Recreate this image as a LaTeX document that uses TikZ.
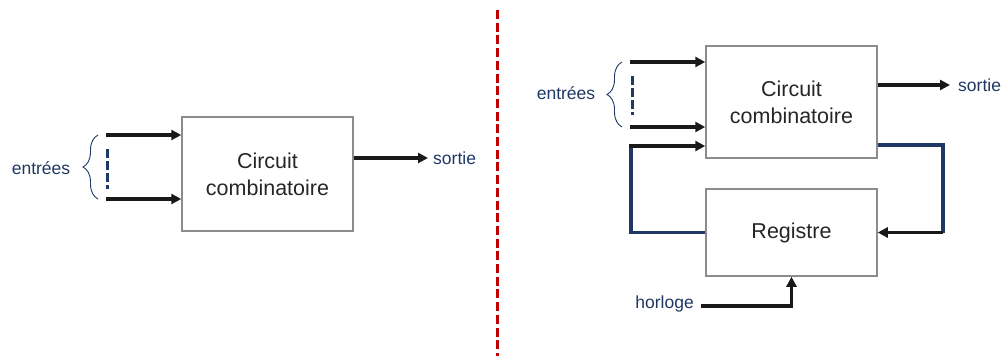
\documentclass[tikz,border=0pt]{standalone}
\usepackage{fontspec}
\setmainfont{Liberation Sans}
\usetikzlibrary{arrows.meta,decorations.pathreplacing}
\definecolor{navy}{HTML}{1F3864}
\definecolor{boxgray}{HTML}{8C8C8C}
\definecolor{ink}{HTML}{262626}
\definecolor{sepred}{HTML}{C00000}
\begin{document}
\begin{tikzpicture}[x=1pt,y=-1pt,
		bloc/.style={draw=boxgray, line width=1.5pt, minimum width=171pt, text=ink,
			align=center, font={\fontsize{21.5}{27}\selectfont}},
		label/.style={text=navy, inner sep=0pt, font={\fontsize{17.5}{20}\selectfont}},
		fil/.style={draw=black!90, line width=3.5pt, -{Triangle[length=10pt,width=10pt]}},
		boucle/.style={draw=navy, line width=3.5pt},
		pointille/.style={draw=navy, line width=3pt, dash pattern=on 9pt off 3pt},
		accolade/.style={draw=navy, line width=0.9pt, decorate,
			decoration={brace, amplitude=15pt}}]
		\useasboundingbox (0,0) rectangle (1002,356);

		% separateur
		\draw[sepred, line width=3pt, dash pattern=on 9pt off 3.7pt] (497.5,10) -- (497.5,356);

		% circuit combinatoire seul
		\node[bloc, minimum height=114pt] (cc1) at (267.5,174) {Circuit\\combinatoire};
		\coordinate (e1a) at (106,135);
		\coordinate (e1b) at (106,199);
		\coordinate (s1) at (428,158);
		\draw[fil] (e1a) -- (e1a -| cc1.west);
		\draw[fil] (e1b) -- (e1b -| cc1.west);
		\draw[pointille] (107,149) -- (107,189);
		\draw[accolade] (98,199) -- (98,135);
		\node[label] (ent1) at (41,168) {entrées};
		\draw[fil] (s1 -| cc1.east) -- (s1);
		\node[label, anchor=west] (sor1) at (433,158) {sortie};

		% circuit sequentiel
		\node[bloc, minimum height=112pt] (cc2) at (791.5,102) {Circuit\\combinatoire};
		\node[bloc, minimum height=87pt] (reg) at (791.5,232.5) {Registre};
		\coordinate (e2a) at (630,62);
		\coordinate (e2b) at (630,127);
		\coordinate (s2) at (950,85);
		\draw[fil] (e2a) -- (e2a -| cc2.west);
		\draw[fil] (e2b) -- (e2b -| cc2.west);
		\draw[pointille] (632,76) -- (632,115);
		\draw[accolade] (622,127) -- (622,62);
		\node[label] (ent2) at (566,93) {entrées};
		\draw[fil] (s2 -| cc2.east) -- (s2);
		\node[label, anchor=west] (sor2) at (958,85) {sortie};

		% rebouclage
		\coordinate (bd) at (943,145);
		\coordinate (bg) at (631,146);
		\draw[boucle] (bd -| cc2.east) -- (bd) -- (bd |- reg.east);
		\draw[fil] (bd |- reg.east) -- (reg.east);
		\draw[boucle] (reg.west) -- (bg |- reg.west) -- (bg);
		\draw[fil] ([xshift=-1.75pt]bg) -- (bg -| cc2.west);

		% horloge
		\node[label, anchor=east] (hor) at (694,304) {horloge};
		\coordinate (h) at (701,306);
		\draw[fil] (h) -| (reg.south);
	\end{tikzpicture}
\end{document}
